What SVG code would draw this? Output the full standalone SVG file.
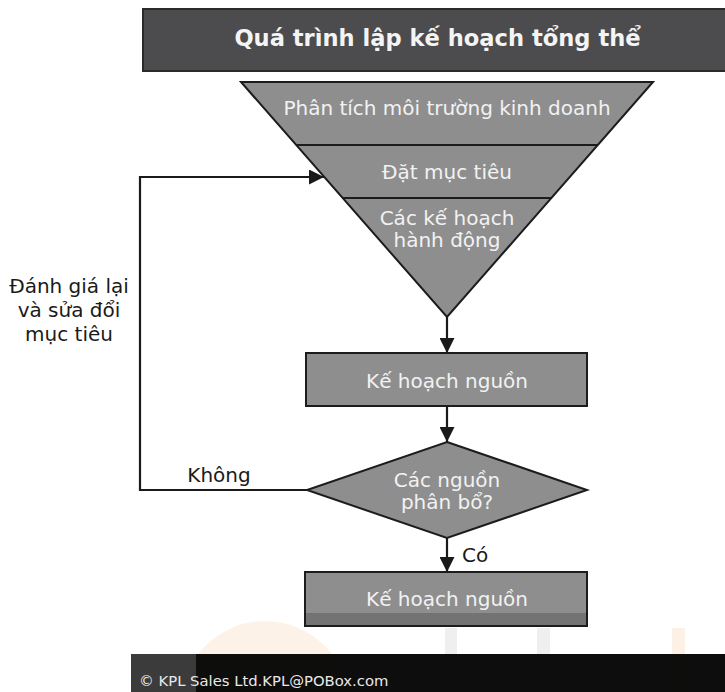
<svg xmlns="http://www.w3.org/2000/svg" width="725" height="692" viewBox="0 0 725 692">
<defs>
<style>
.t{font-family:"DejaVu Sans","Verdana",sans-serif;font-size:20px;fill:#f2f2f2;text-anchor:middle}
.d{font-family:"DejaVu Sans","Verdana",sans-serif;font-size:20px;fill:#1a1a1a;text-anchor:middle}
.box{fill:#8e8e8f;stroke:#1c1c1c;stroke-width:2}
.ln{fill:none;stroke:#1a1a1a;stroke-width:2.2}
</style>
<marker id="ah" viewBox="0 0 15 15" refX="15" refY="7.5" markerWidth="15" markerHeight="15" markerUnits="userSpaceOnUse" orient="auto">
<path d="M0,0 L15,7.5 L0,15 z" fill="#1a1a1a"/>
</marker>
</defs>
<rect width="725" height="692" fill="#ffffff"/>
<g id="watermark">
<circle cx="265" cy="705" r="84" fill="#fdf2e8"/>
<rect x="445" y="628" width="12" height="64" fill="#efefef"/>
<rect x="537" y="628" width="13" height="64" fill="#efefef"/>
<rect x="672" y="628" width="13" height="64" fill="#fdf0e4"/>
</g>
<g id="header">
<rect x="143" y="9" width="583" height="62" fill="#4c4c4e" stroke="#2a2a2a" stroke-width="2"/>
<text x="437.5" y="46" style="font-family:'DejaVu Sans','Verdana',sans-serif;font-size:22.6px;font-weight:bold;fill:#f4f4f4;text-anchor:middle">Quá trình lập kế hoạch tổng thể</text>
</g>
<g id="funnel">
<polygon points="241,82 653,82 447,317" fill="#8e8e8f" stroke="#1c1c1c" stroke-width="2"/>
<line x1="296" y1="145" x2="598" y2="145" stroke="#1c1c1c" stroke-width="2"/>
<line x1="343" y1="198" x2="551" y2="198" stroke="#1c1c1c" stroke-width="2"/>
<text class="t" x="447" y="115">Phân tích môi trường kinh doanh</text>
<text class="t" x="447" y="179">Đặt mục tiêu</text>
<text class="t" x="447" y="225">Các kế hoạch</text>
<text class="t" x="447" y="247">hành động</text>
</g>
<g id="resource-plan-1">
<rect class="box" x="306" y="353" width="281" height="53"/>
<text class="t" x="447" y="388">Kế hoạch nguồn</text>
</g>
<g id="decision">
<polygon points="447,442 587,490 447,538 307,490" fill="#8e8e8f" stroke="#1c1c1c" stroke-width="2"/>
<text class="t" x="447" y="487">Các nguồn</text>
<text class="t" x="447" y="509">phân bổ?</text>
</g>
<g id="resource-plan-2">
<rect class="box" x="305" y="572" width="282" height="54"/>
<rect x="306" y="613" width="280" height="12" fill="#6e6e6e" opacity="0.85"/>
<text class="t" x="447" y="606">Kế hoạch nguồn</text>
</g>
<g id="connectors">
<line class="ln" x1="447" y1="317" x2="447" y2="353" marker-end="url(#ah)"/>
<line class="ln" x1="447" y1="406" x2="447" y2="442" marker-end="url(#ah)"/>
<line class="ln" x1="447" y1="538" x2="447" y2="572" marker-end="url(#ah)"/>
<polyline class="ln" points="307,490 140,490 140,177 324,177" marker-end="url(#ah)"/>
</g>
<g id="labels">
<text class="d" x="69" y="293">Đánh giá lại</text>
<text class="d" x="69" y="317">và sửa đổi</text>
<text class="d" x="69" y="341">mục tiêu</text>
<text class="d" x="219" y="482">Không</text>
<text class="d" x="462" y="562" style="text-anchor:start">Có</text>
</g>
<g id="footer">
<rect x="131" y="654" width="594" height="38" fill="#030303" opacity="0.96"/>
<rect x="131" y="654" width="65" height="38" fill="#3b3b3b"/>
<text x="139" y="686" style="font-family:'DejaVu Sans','Verdana',sans-serif;font-size:14.8px;fill:#e8e8e8">© KPL Sales Ltd.KPL@POBox.com</text>
</g>
</svg>
